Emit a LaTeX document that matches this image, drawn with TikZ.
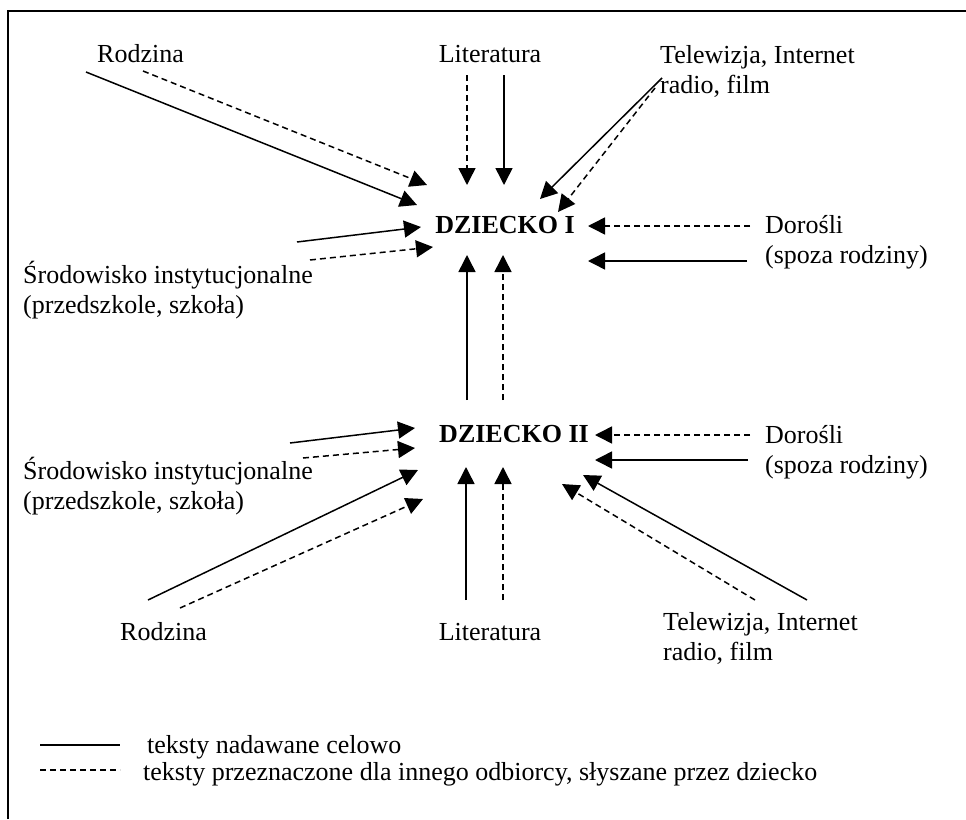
\documentclass[tikz,border=0pt]{standalone}
\usepackage{fontspec}
\setmainfont{Liberation Serif}
\usetikzlibrary{arrows.meta}
\begin{document}
\begin{tikzpicture}[x=1pt,y=-1pt,
    every node/.style={inner sep=0pt,font=\fontsize{26}{30}\selectfont},
    zrodlo/.style={anchor=base west,align=left},
    dziecko/.style={anchor=base,font=\fontsize{26}{30}\selectfont\bfseries},
    celowo/.style={line width=1.5pt,-{Triangle[length=17pt,width=17pt]}},
    uboczne/.style={celowo,dash pattern=on 6pt off 4pt}]
    \useasboundingbox (0,0) rectangle (966,819);
    %frame
    \draw[line width=2pt] (8,819) -- (8,11) -- (966,11);
    %children
    \node[dziecko] (d1) at (505,233) {DZIECKO I};
    \node[dziecko] (d2) at (514,442) {DZIECKO II};
    %sources, top (base = last line)
    \node[zrodlo] (rodzA) at (97,62) {Rodzina};
    \node[anchor=base] (litA) at (490,62) {Literatura};
    \node[zrodlo] (telA) at (660,93) {Telewizja, Internet\\radio, film};
    \node[zrodlo] (dorA) at (765,263) {Dorośli\\(spoza rodziny)};
    \node[zrodlo] (srodA) at (23,313) {Środowisko instytucjonalne\\(przedszkole, szkoła)};
    %sources, bottom
    \node[zrodlo] (dorB) at (765,473) {Dorośli\\(spoza rodziny)};
    \node[zrodlo] (srodB) at (23,509) {Środowisko instytucjonalne\\(przedszkole, szkoła)};
    \node[zrodlo] (rodzB) at (120,640) {Rodzina};
    \node[anchor=base] (litB) at (490,640) {Literatura};
    \node[zrodlo] (telB) at (663,660) {Telewizja, Internet\\radio, film};
    %arrows to d1
    \draw[celowo]  ([shift={(-11,10)}]rodzA.base west) -- ([shift={(-88,-28)}]d1.base);
    \draw[uboczne] ([shift={(46,9)}]rodzA.base west) -- ([shift={(-78,-48)}]d1.base);
    \draw[uboczne] ([shift={(-23,13)}]litA.base) -- ([shift={(-38,-48)}]d1.base);
    \draw[celowo]  ([shift={(14,13)}]litA.base) -- ([shift={(-1,-48)}]d1.base);
    \draw[celowo]  ([shift={(2,-15)}]telA.base west) -- ([shift={(35,-34)}]d1.base);
    \draw[uboczne] ([shift={(-5,-5)}]telA.base west) -- ([shift={(53,-21)}]d1.base);
    \draw[uboczne] ([shift={(-15,-37)}]dorA.base west) -- ([shift={(83,-7)}]d1.base);
    \draw[celowo]  ([shift={(-18,-2)}]dorA.base west) -- ([shift={(83,28)}]d1.base);
    \draw[celowo]  ([shift={(274,-71)}]srodA.base west) -- ([shift={(-84,-6)}]d1.base);
    \draw[uboczne] ([shift={(287,-53)}]srodA.base west) -- ([shift={(-72,14)}]d1.base);
    %d2 to d1
    \draw[celowo]  ([shift={(-47,-42)}]d2.base) -- ([shift={(-38,22)}]d1.base);
    \draw[uboczne] ([shift={(-11,-42)}]d2.base) -- ([shift={(-2,22)}]d1.base);
    %arrows to d2
    \draw[uboczne] ([shift={(-15,-38)}]dorB.base west) -- ([shift={(81,-7)}]d2.base);
    \draw[celowo]  ([shift={(-17,-13)}]dorB.base west) -- ([shift={(81,18)}]d2.base);
    \draw[celowo]  ([shift={(144,-60)}]telB.base west) -- ([shift={(69,33)}]d2.base);
    \draw[uboczne] ([shift={(92,-60)}]telB.base west) -- ([shift={(48,42)}]d2.base);
    \draw[celowo]  ([shift={(-24,-40)}]litB.base) -- ([shift={(-48,25)}]d2.base);
    \draw[uboczne] ([shift={(13,-40)}]litB.base) -- ([shift={(-11,25)}]d2.base);
    \draw[celowo]  ([shift={(28,-40)}]rodzB.base west) -- ([shift={(-96,28)}]d2.base);
    \draw[uboczne] ([shift={(60,-32)}]rodzB.base west) -- ([shift={(-91,57)}]d2.base);
    \draw[celowo]  ([shift={(267,-66)}]srodB.base west) -- ([shift={(-99,-14)}]d2.base);
    \draw[uboczne] ([shift={(280,-51)}]srodB.base west) -- ([shift={(-99,6)}]d2.base);
    %legend
    \node[zrodlo] (leg1) at (147,753) {teksty nadawane celowo};
    \node[zrodlo] (leg2) at (143,780) {teksty przeznaczone dla innego odbiorcy, słyszane przez dziecko};
    \draw[line width=1.5pt] ([shift={(-107,-8)}]leg1.base west) -- ++(80,0);
    \draw[line width=1.5pt,dash pattern=on 6pt off 4pt] ([shift={(-103,-10)}]leg2.base west) -- ++(80,0);
\end{tikzpicture}
\end{document}
